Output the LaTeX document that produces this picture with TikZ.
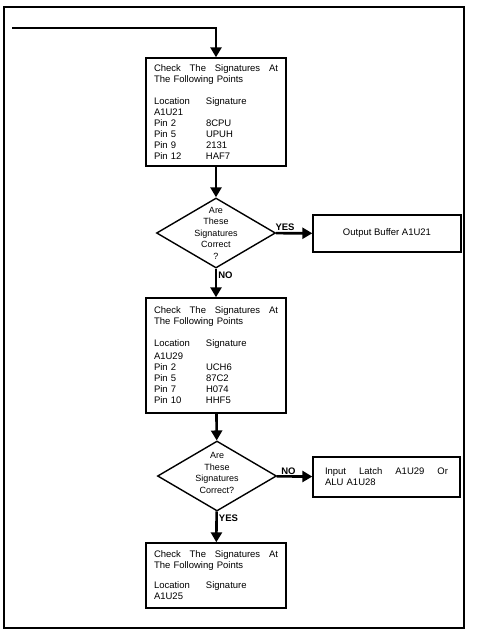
\documentclass[tikz,border=0pt]{standalone}
\usepackage{fontspec}
\setmainfont{Liberation Sans}
\usetikzlibrary{shapes.geometric,arrows.meta}
\newcommand{\sigrow}[2]{\makebox[52pt][l]{#1}#2}

\begin{document}
\begin{tikzpicture}[x=1pt, y=-1pt, >={Triangle[length=10pt,width=11pt]},
    box/.style={draw, line width=1.4pt, inner xsep=8pt, inner ysep=4pt, font=\fontsize{9.5}{11}\selectfont},
    sigbox/.style={box, text width=124pt, align=left},
    decision/.style={diamond, draw, line width=1.4pt, minimum width=119pt, minimum height=70pt, inner sep=0pt},
    qtext/.style={align=center, inner sep=0pt, font=\fontsize{9}{11.5}\selectfont},
    flow/.style={->, line width=2.6pt},
    tag/.style={font=\bfseries\fontsize{9.5}{10}\selectfont, inner sep=1pt}]
    \useasboundingbox (0,0) rectangle (478,632);
    \draw[line width=1.4pt] (4,7) rectangle (464,628);

    % first check
    \node[sigbox, minimum height=108pt] (chk1) at (216,112) {%
        \makebox[124pt]{Check\hfill The\hfill Signatures\hfill At}\\
        The Following Points\\[11pt]
        \sigrow{Location}{Signature}\\
        A1U21\\
        \sigrow{Pin 2}{8CPU}\\
        \sigrow{Pin 5}{UPUH}\\
        \sigrow{Pin 9}{2131}\\
        \sigrow{Pin 12}{HAF7}};
    \node[decision, label={[qtext]center:{Are\\These\\Signatures\\Correct\\?}}] (q1) at (216,233) {};
    \node[box, minimum width=148pt, minimum height=37pt] (out1) at (387,233.5) {Output Buffer A1U21};

    % second check
    \node[sigbox, minimum height=115pt] (chk2) at (216,355.5) {%
        \makebox[124pt]{Check\hfill The\hfill Signatures\hfill At}\\
        The Following Points\\[11pt]
        \sigrow{Location}{Signature}\\[2pt]
        A1U29\\
        \sigrow{Pin 2}{UCH6}\\
        \sigrow{Pin 5}{87C2}\\
        \sigrow{Pin 7}{H074}\\
        \sigrow{Pin 10}{HHF5}};
    \node[decision, label={[qtext, yshift=3pt]center:{Are\\These\\Signatures\\Correct?}}] (q2) at (217,476) {};
    \node[box, text width=123pt, align=left, minimum width=147pt, minimum height=40pt] (in1) at (386.5,477) {%
        \makebox[123pt]{Input\hfill Latch\hfill A1U29\hfill Or}\\
        ALU A1U28};

    % third check
    \node[sigbox, minimum height=65pt] (chk3) at (216,575.5) {%
        \makebox[124pt]{Check\hfill The\hfill Signatures\hfill At}\\
        The Following Points\\[9pt]
        \sigrow{Location}{Signature}\\
        A1U25};

    \coordinate (entry) at (12,28);
    \draw[flow] (entry) -| (chk1.north);
    \draw[flow] (chk1) -- (q1);
    \draw[flow] (q1) -- node[tag, above, pos=0.25]{YES} (out1);
    \draw[flow] (q1) -- node[tag, pos=0.02, anchor=north west]{NO} (chk2);
    \draw[flow] (chk2) -- (q2);
    \draw[flow] (q2) -- node[tag, above, pos=0.33]{NO} (in1);
    \draw[flow] (q2) -- node[tag, pos=0.02, anchor=north west]{YES} (chk3);
\end{tikzpicture}
\end{document}
